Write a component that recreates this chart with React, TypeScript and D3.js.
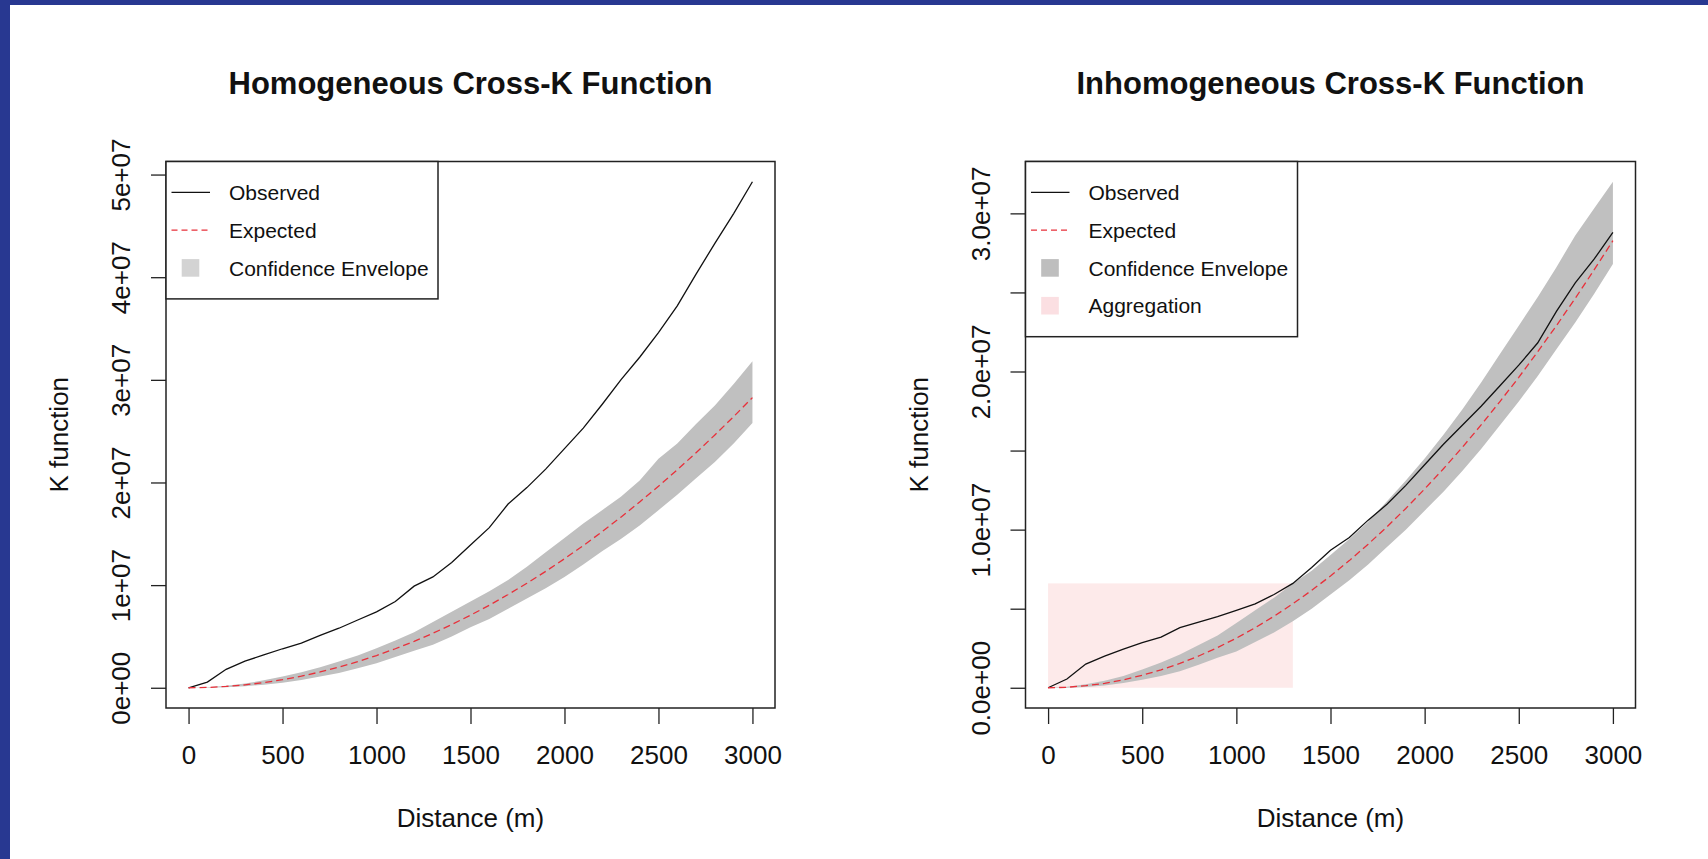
import React, { useEffect, useRef } from "react";
import * as d3 from "d3";

// distances (m) and K values in units of 1e6
const distance = [
  0, 100, 200, 300, 400, 500, 600, 700, 800, 900, 1000, 1100, 1200, 1300, 1400, 1500,
  1600, 1700, 1800, 1900, 2000, 2100, 2200, 2300, 2400, 2500, 2600, 2700, 2800, 2900, 3000,
];

const homObserved = [
  0, 0.55, 1.8, 2.6, 3.2, 3.8, 4.35, 5.1, 5.8, 6.6, 7.4, 8.4, 9.9, 10.8, 12.2, 13.9,
  15.6, 17.9, 19.5, 21.3, 23.3, 25.3, 27.6, 30.0, 32.2, 34.6, 37.2, 40.3, 43.3, 46.2, 49.3,
];
const homExpected = [
  0, 0.03, 0.13, 0.28, 0.5, 0.79, 1.13, 1.54, 2.01, 2.54, 3.14, 3.8, 4.52, 5.31, 6.16, 7.07,
  8.04, 9.08, 10.18, 11.34, 12.57, 13.85, 15.2, 16.62, 18.1, 19.63, 21.24, 22.9, 24.63, 26.42, 28.27,
];
const homLower = [
  0, 0, 0.05, 0.15, 0.3, 0.5, 0.75, 1.1, 1.45, 1.9, 2.4, 3.0, 3.6, 4.2, 5.0, 5.9,
  6.7, 7.7, 8.7, 9.7, 10.8, 12.0, 13.3, 14.5, 15.8, 17.3, 18.8, 20.4, 22.0, 23.8, 25.8,
];
const homUpper = [
  0, 0.06, 0.2, 0.42, 0.72, 1.1, 1.5, 2.0, 2.55, 3.15, 3.85, 4.6, 5.4, 6.4, 7.4, 8.4,
  9.4, 10.5, 11.8, 13.2, 14.6, 16.0, 17.3, 18.6, 20.2, 22.3, 23.8, 25.7, 27.5, 29.6, 31.8,
];

const inhObserved = [
  0, 0.55, 1.5, 2.0, 2.45, 2.85, 3.2, 3.8, 4.15, 4.5, 4.9, 5.3, 5.9, 6.6, 7.6, 8.7,
  9.5, 10.6, 11.6, 12.8, 14.1, 15.4, 16.6, 17.8, 19.1, 20.4, 21.8, 23.8, 25.6, 27.1, 28.8,
];
const inhExpected = [
  0, 0.03, 0.13, 0.28, 0.5, 0.79, 1.13, 1.54, 2.01, 2.54, 3.14, 3.8, 4.52, 5.31, 6.16, 7.07,
  8.04, 9.08, 10.18, 11.34, 12.57, 13.85, 15.2, 16.62, 18.1, 19.63, 21.24, 22.9, 24.63, 26.42, 28.27,
];
const inhLower = [
  0, 0, 0.05, 0.15, 0.3, 0.5, 0.75, 1.05, 1.45, 1.9, 2.3, 2.9, 3.5, 4.2, 5.0, 5.9,
  6.8, 7.8, 8.9, 10.0, 11.2, 12.4, 13.7, 15.1, 16.6, 18.1, 19.7, 21.4, 23.1, 24.9, 26.8,
];
const inhUpper = [
  0, 0.07, 0.22, 0.45, 0.75, 1.15, 1.6, 2.1, 2.7, 3.3, 4.1, 4.9, 5.7, 6.6, 7.4, 8.4,
  9.4, 10.5, 11.8, 13.1, 14.5, 16.0, 17.6, 19.3, 21.1, 22.9, 24.7, 26.6, 28.6, 30.3, 32.0,
];

// aggregation zone: distance range and height (1e6)
const aggregationRange = [0, 1300];
const aggregationTop = 6.6;

const xTicks = [0, 500, 1000, 1500, 2000, 2500, 3000];
const homYTicks = [0, 10, 20, 30, 40, 50];
const homYLabels = ["0e+00", "1e+07", "2e+07", "3e+07", "4e+07", "5e+07"];
const inhYTicks = [0, 5, 10, 15, 20, 25, 30];
const inhYLabels = ["0.0e+00", "", "1.0e+07", "", "2.0e+07", "", "3.0e+07"];

const W = 1708;
const H = 859;
const TOP = 161.5;
const BOTTOM = 708;
const FONT = "'Liberation Sans', Arial, Helvetica, sans-serif";
const ENVELOPE = "#c0c0c0";
const PINK = "#fdeaea";
const RED = "#e8303a";

const App = () => {
  const svgRef = useRef(null);

  useEffect(() => {
    const svg = d3.select(svgRef.current);
    svg.selectAll("*").remove();

    svg.append("rect").attr("width", W).attr("height", H).attr("fill", "#fff");
    // blue frame of the slide
    svg.append("rect").attr("width", W).attr("height", 5).attr("fill", "#283891");
    svg.append("rect").attr("width", 10).attr("height", H).attr("fill", "#283891");

    const panels = [
      {
        left: 166,
        right: 775,
        title: "Homogeneous Cross-K Function",
        observed: homObserved,
        expected: homExpected,
        lower: homLower,
        upper: homUpper,
        yTicks: homYTicks,
        yLabels: homYLabels,
        aggregation: false,
        legendSquare: "#d3d3d3",
      },
      {
        left: 1025.5,
        right: 1635.5,
        title: "Inhomogeneous Cross-K Function",
        observed: inhObserved,
        expected: inhExpected,
        lower: inhLower,
        upper: inhUpper,
        yTicks: inhYTicks,
        yLabels: inhYLabels,
        aggregation: true,
        legendSquare: "#bebebe",
      },
    ];

    panels.forEach((p) => {
      const xExt = d3.extent(distance) as [number, number];
      const xPad = (xExt[1] - xExt[0]) * 0.04;
      const x = d3
        .scaleLinear()
        .domain([xExt[0] - xPad, xExt[1] + xPad])
        .range([p.left, p.right]);
      const yMax = d3.max([...p.observed, ...p.upper, ...p.expected]) as number;
      const y = d3
        .scaleLinear()
        .domain([-0.04 * yMax, 1.04 * yMax])
        .range([BOTTOM, TOP]);

      const g = svg.append("g");

      // aggregation zone
      if (p.aggregation) {
        g.append("rect")
          .attr("x", x(aggregationRange[0]))
          .attr("y", y(aggregationTop))
          .attr("width", x(aggregationRange[1]) - x(aggregationRange[0]))
          .attr("height", y(0) - y(aggregationTop))
          .attr("fill", PINK);
      }

      // confidence envelope
      const area = d3
        .area<number>()
        .x((d) => x(d))
        .y0((d, i) => y(p.lower[i]))
        .y1((d, i) => y(p.upper[i]));
      g.append("path").attr("d", area(distance)).attr("fill", ENVELOPE);

      const lineOf = (vals: number[]) =>
        d3
          .line<number>()
          .x((d) => x(d))
          .y((d, i) => y(vals[i]))(distance);

      g.append("path")
        .attr("d", lineOf(p.observed))
        .attr("fill", "none")
        .attr("stroke", "#111")
        .attr("stroke-width", 1.3);

      g.append("path")
        .attr("d", lineOf(p.expected))
        .attr("fill", "none")
        .attr("stroke", RED)
        .attr("stroke-width", 1.3)
        .attr("stroke-dasharray", "7,4");

      // plot box
      g.append("rect")
        .attr("x", p.left)
        .attr("y", TOP)
        .attr("width", p.right - p.left)
        .attr("height", BOTTOM - TOP)
        .attr("fill", "none")
        .attr("stroke", "#222")
        .attr("stroke-width", 1.5);

      // x axis
      const gx = g
        .append("g")
        .attr("transform", `translate(0,${BOTTOM})`)
        .call(
          d3
            .axisBottom(x)
            .tickValues(xTicks)
            .tickSize(16)
            .tickPadding(22)
            .tickFormat(d3.format("d"))
        );
      gx.select(".domain").remove();
      gx.attr("font-family", FONT).attr("font-size", 26).attr("color", "#222");
      gx.selectAll("line").attr("stroke-width", 1.3);
      gx.selectAll("text").attr("fill", "#111");

      // y axis
      const gy = g
        .append("g")
        .attr("transform", `translate(${p.left},0)`)
        .call(
          d3
            .axisLeft(y)
            .tickValues(p.yTicks)
            .tickSize(15)
            .tickFormat((d, i) => p.yLabels[i])
        );
      gy.select(".domain").remove();
      gy.attr("font-family", FONT).attr("font-size", 26).attr("color", "#222");
      gy.selectAll("line").attr("stroke-width", 1.3);
      gy.selectAll("text")
        .attr("x", 0)
        .attr("dy", null)
        .attr("fill", "#111")
        .attr("text-anchor", "middle")
        .attr("transform", "translate(-36,0) rotate(-90)");

      const cx = (p.left + p.right) / 2;

      // title
      g.append("text")
        .attr("x", cx)
        .attr("y", 94)
        .attr("text-anchor", "middle")
        .attr("font-family", FONT)
        .attr("font-weight", "bold")
        .attr("font-size", 31)
        .attr("fill", "#111")
        .text(p.title);

      // axis titles
      g.append("text")
        .attr("x", cx)
        .attr("y", 827)
        .attr("text-anchor", "middle")
        .attr("font-family", FONT)
        .attr("font-size", 26)
        .attr("fill", "#111")
        .text("Distance (m)");

      g.append("text")
        .attr("transform", `translate(${p.left - 98},${(TOP + BOTTOM) / 2}) rotate(-90)`)
        .attr("text-anchor", "middle")
        .attr("font-family", FONT)
        .attr("font-size", 26)
        .attr("fill", "#111")
        .text("K function");

      // legend
      const items = [
        { label: "Observed", kind: "line" },
        { label: "Expected", kind: "dash" },
        { label: "Confidence Envelope", kind: "square", color: p.legendSquare },
      ];
      if (p.aggregation) items.push({ label: "Aggregation", kind: "square", color: "#fbdfe2" });

      const rowH = 37.8;
      const lg = g.append("g").attr("transform", `translate(${p.left},${TOP})`);
      lg.append("rect")
        .attr("width", 272)
        .attr("height", items.length * rowH + 24)
        .attr("fill", "#fff")
        .attr("stroke", "#222")
        .attr("stroke-width", 1.5);

      items.forEach((it, i) => {
        const cy = 30.8 + i * rowH;
        if (it.kind === "line" || it.kind === "dash") {
          lg.append("line")
            .attr("x1", 5.5)
            .attr("x2", 44)
            .attr("y1", cy)
            .attr("y2", cy)
            .attr("stroke", it.kind === "line" ? "#111" : RED)
            .attr("stroke-width", 1.3)
            .attr("stroke-dasharray", it.kind === "dash" ? "6,4" : null);
        } else {
          lg.append("rect")
            .attr("x", 15.7)
            .attr("y", cy - 8.8)
            .attr("width", 17.6)
            .attr("height", 17.6)
            .attr("fill", it.color);
        }
        lg.append("text")
          .attr("x", 63)
          .attr("y", cy + 7.6)
          .attr("font-family", FONT)
          .attr("font-size", 21)
          .attr("fill", "#111")
          .text(it.label);
      });
    });
  }, []);

  return (
    <svg
      ref={svgRef}
      width={W}
      height={H}
      style={{ position: "absolute", left: 0, top: 0, display: "block" }}
    ></svg>
  );
};

export default App;
